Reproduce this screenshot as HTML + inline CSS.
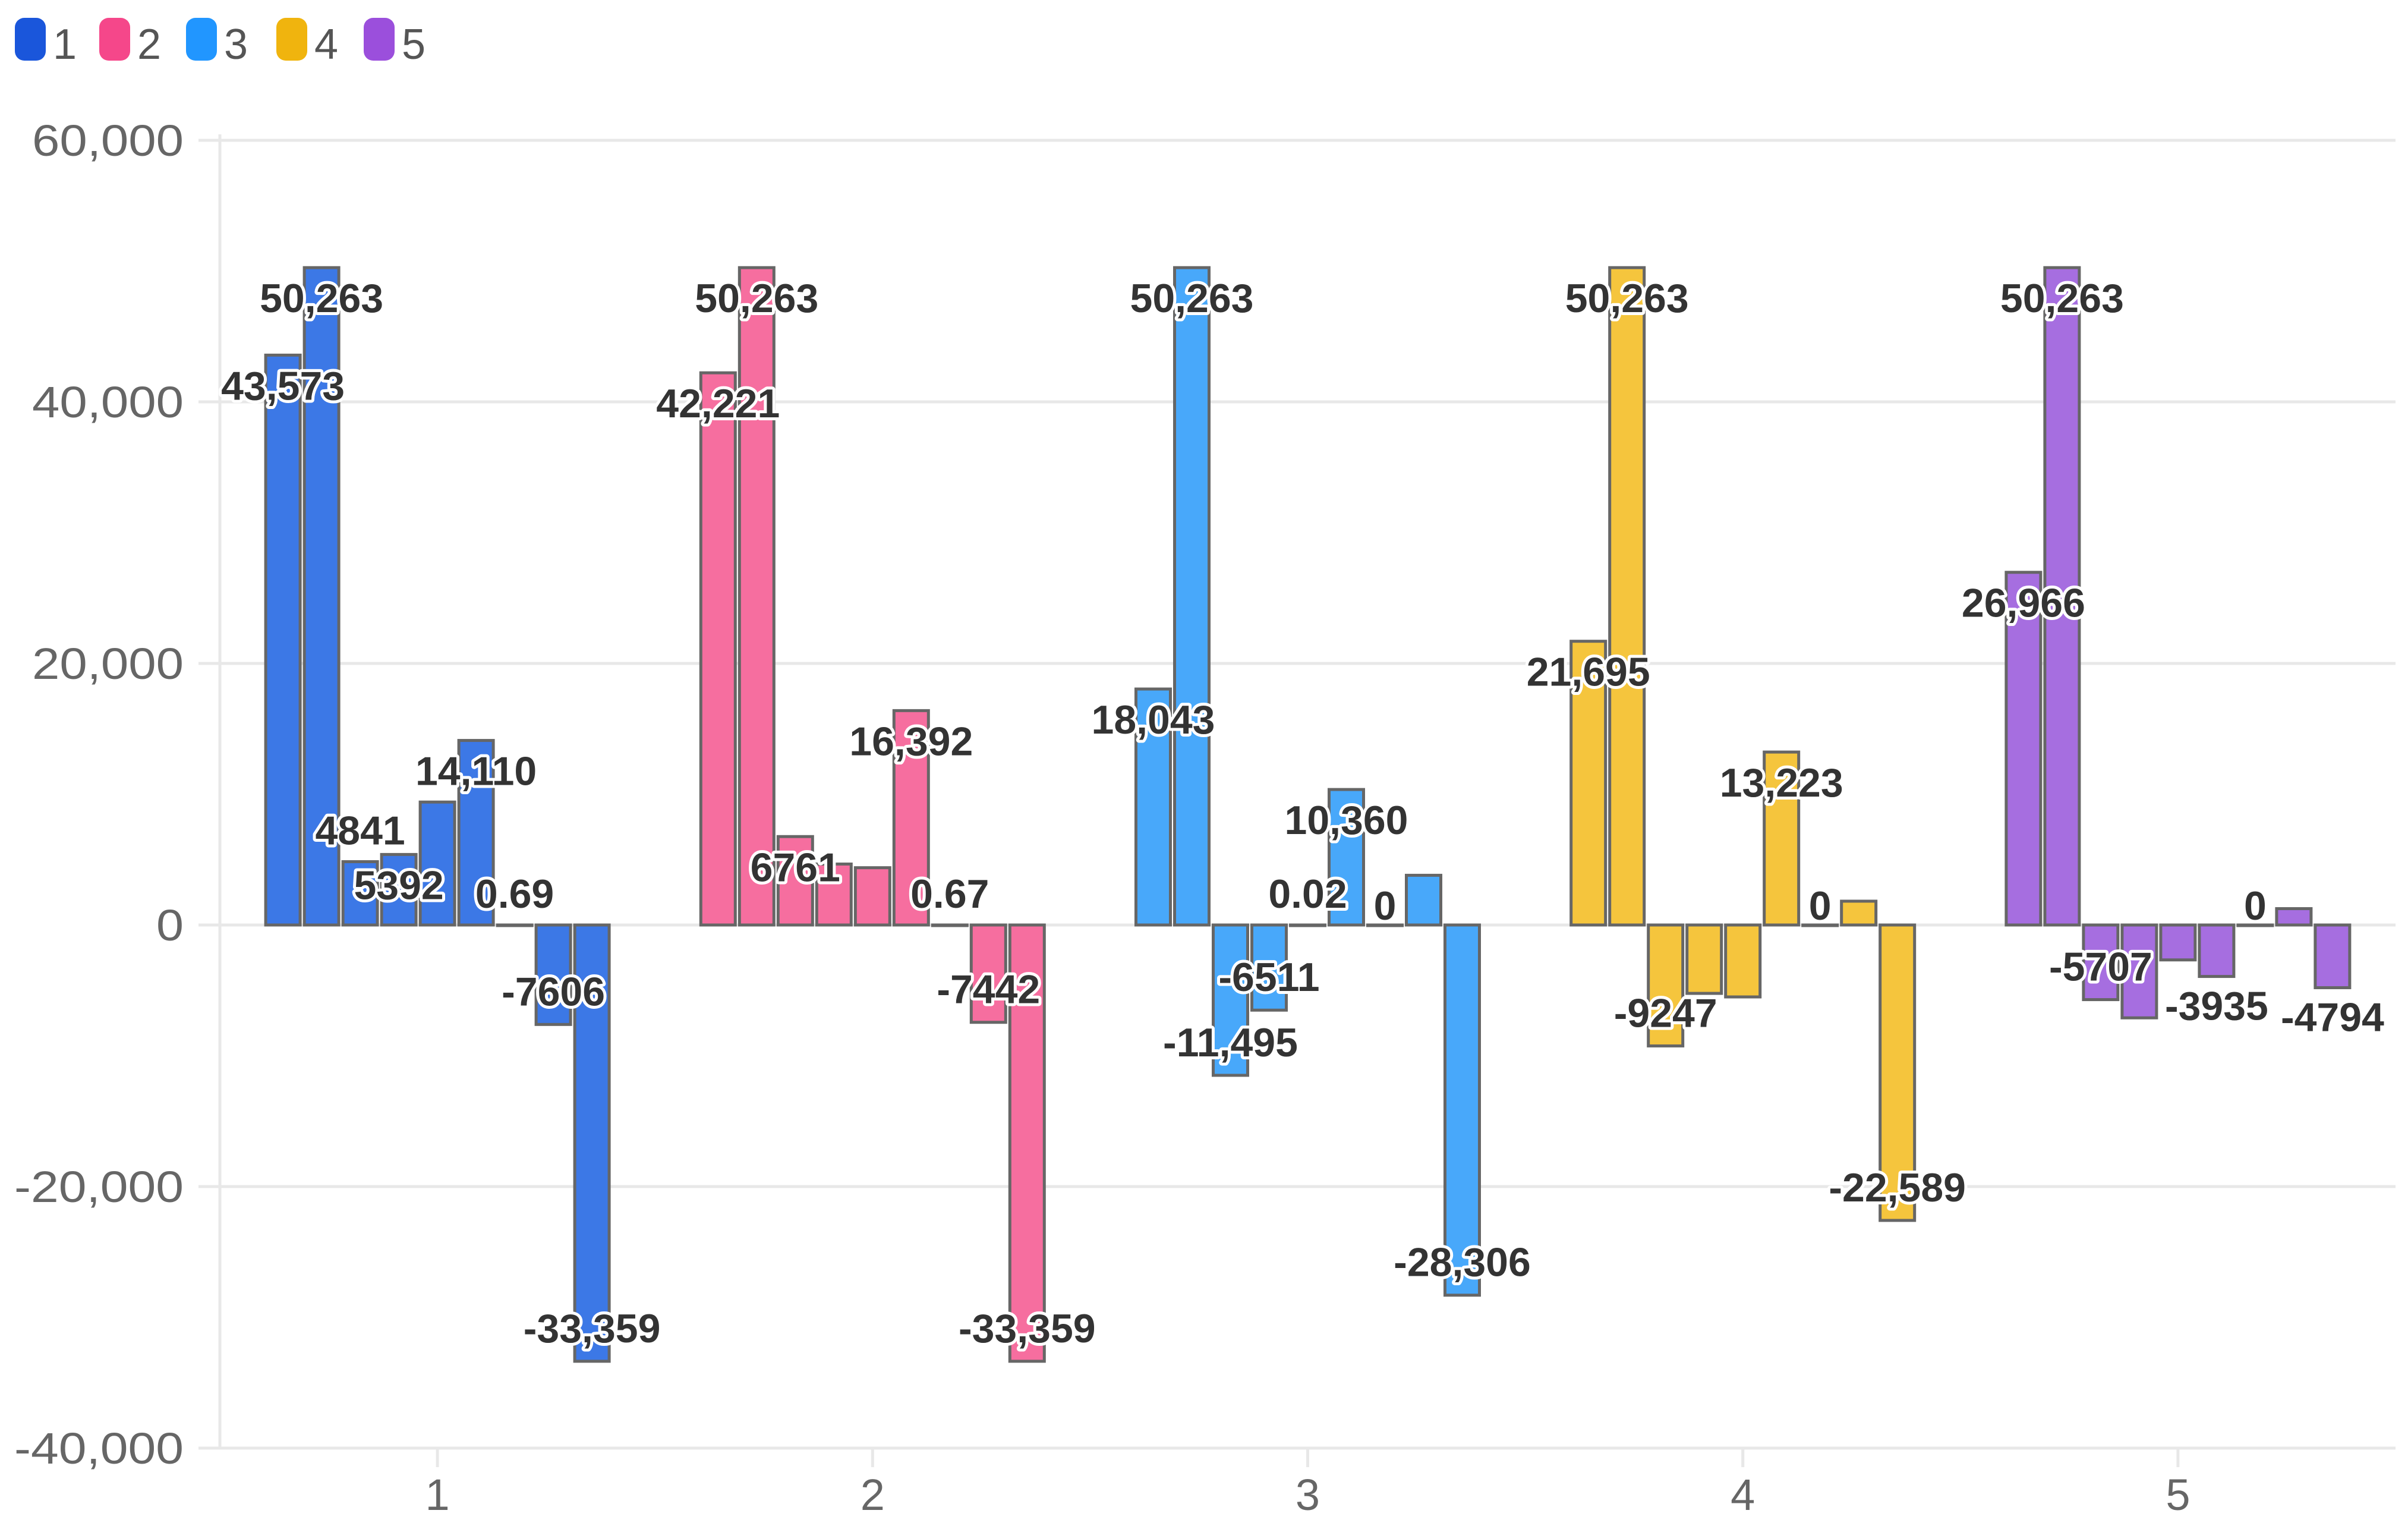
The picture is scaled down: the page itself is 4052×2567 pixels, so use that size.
<!DOCTYPE html>
<html><head><meta charset="utf-8"><style>
html,body{margin:0;padding:0;background:#fff;}
svg{display:block;font-family:"Liberation Sans",sans-serif;}
</style></head><body>
<svg id="chart" width="4052" height="2567" viewBox="0 0 4052 2567" xmlns="http://www.w3.org/2000/svg">
<g id="legend"></g>
<g id="grid"></g>
<g id="bars"></g>
<g id="labels"></g>
</svg>
<script>
const categories = ["1","2","3","4","5"];
const seriesNames = ["1","2","3","4","5"];
const group1 = [43573, 50263, 4841, 5392, 9400, 14110, 0.69, -7606, -33359];
const group2 = [42221, 50263, 6761, 4660, 4380, 16392, 0.67, -7442, -33359];
const group3 = [18043, 50263, -11495, -6511, 0.02, 10360, 0, 3800, -28306];
const group4 = [21695, 50263, -9247, -5230, -5500, 13223, 0, 1820, -22589];
const group5 = [26966, 50263, -5707, -7100, -2670, -3935, 0, 1250, -4794];
const showLabel1 = [1,1,1,1,0,1,1,1,1];
const showLabel2 = [1,1,1,0,0,1,1,1,1];
const showLabel3 = [1,1,1,1,1,1,1,0,1];
const showLabel4 = [1,1,1,0,0,1,1,0,1];
const showLabel5 = [1,1,1,0,0,1,1,0,1];
const yTicks = [60000, 40000, 20000, 0, -20000, -40000];
const yTickLabels = ["60,000","40,000","20,000","0","-20,000","-40,000"];

const groups = [group1, group2, group3, group4, group5];
const shows = [showLabel1, showLabel2, showLabel3, showLabel4, showLabel5];
const fills = ["#3c78e6","#f66e9f","#48a8fa","#f5c53d","#a66ee0"];
const legendFills = ["#1a56db","#f5478a","#2196ff","#f0b40e","#9b4fdc"];
const NS = "http://www.w3.org/2000/svg";
const X0 = 370, X1 = 4031, Y0 = 236, Y1 = 2436, YMAX = 60000, YMIN = -40000;
const band = (X1 - X0) / categories.length;
const slot = 65, barW = 58;
function y(v){ return Y0 + (YMAX - v) / (YMAX - YMIN) * (Y1 - Y0); }
function xCenter(i){ return X0 + band * (i + 0.5); }
function barX(gi, bi, n){ return xCenter(gi) - slot * n / 2 + bi * slot + (slot - barW) / 2; }
function mk(tag, attrs, parent){ const e = document.createElementNS(NS, tag); for (const k in attrs) e.setAttribute(k, attrs[k]); parent.appendChild(e); return e; }
function fmt(v){ if (Math.abs(v) < 1 && v !== 0) return String(v); const a = Math.abs(v); const s = a >= 10000 ? a.toLocaleString("en-US") : String(a); return (v < 0 ? "-" : "") + s; }
function labW(s){ let w = 0; for (const ch of s) w += ch === "," ? 25 : ch === "-" ? 30 : 46; return w; }

const grid = document.getElementById("grid");
yTicks.forEach((t, i) => {
  const gl = mk("line", {x1: 334, x2: X1, y1: y(t), y2: y(t), stroke: "#e8e8e8", "stroke-width": 5}, grid);
  
  
  const lbl = yTickLabels[i];
  const tl = mk("text", {x: 309, y: y(t) + 26, "text-anchor": "end", "font-size": 74, fill: "#666", textLength: labW(lbl), lengthAdjust: "spacingAndGlyphs"}, grid);
  tl.textContent = lbl;
  
  
});
const ax = mk("line", {x1: X0, x2: X0, y1: Y0 - 10, y2: Y1, stroke: "#e8e8e8", "stroke-width": 5}, grid);


categories.forEach((c, i) => {
  const tk = mk("line", {x1: xCenter(i), x2: xCenter(i), y1: Y1, y2: 2468, stroke: "#e8e8e8", "stroke-width": 5}, grid);
  
  
  const t = mk("text", {x: xCenter(i), y: 2540, "text-anchor": "middle", "font-size": 74, fill: "#666"}, grid);
  t.textContent = c;
  
  
});

const legend = document.getElementById("legend");
const legX = [25, 167, 313, 465, 612];
seriesNames.forEach((s, i) => {
  const g = mk("g", {}, legend);
  
  
  mk("rect", {x: legX[i], y: 30, width: 52, height: 72, rx: 16, fill: legendFills[i]}, g);
  const t = mk("text", {x: legX[i] + 64, y: 99, "font-size": 72, fill: "#555"}, g);
  t.textContent = s;
});

const barsG = document.getElementById("bars");
const labG = document.getElementById("labels");
groups.forEach((vals, gi) => {
  vals.forEach((v, bi) => {
    const bx = barX(gi, bi, vals.length);
    const top = Math.min(y(v), y(0)), h = Math.max(Math.abs(y(v) - y(0)), 1);
    const r = mk("rect", {x: bx, y: top, width: barW, height: h, fill: fills[gi], stroke: "#666", "stroke-width": 5}, barsG);
    
    
    if (!shows[gi][bi]) return;
    const len = Math.abs(y(v) - y(0));
    let cy;
    if (v >= 0) cy = len > 110 ? y(v) + 52 : y(v) - 52;
    else cy = len > 110 ? y(v) - 55 : y(v) + 50;
    if (v === 0) cy = y(0) - 32;
    const t = mk("text", {x: bx + barW / 2, y: cy + 23, "text-anchor": "middle", "font-size": 68, "font-weight": "bold", fill: "#333", stroke: "#fff", "stroke-width": 10, "stroke-linejoin": "round", "paint-order": "stroke"}, labG);
    t.textContent = fmt(v);
    
    
  });
});
</script>
</body></html>
